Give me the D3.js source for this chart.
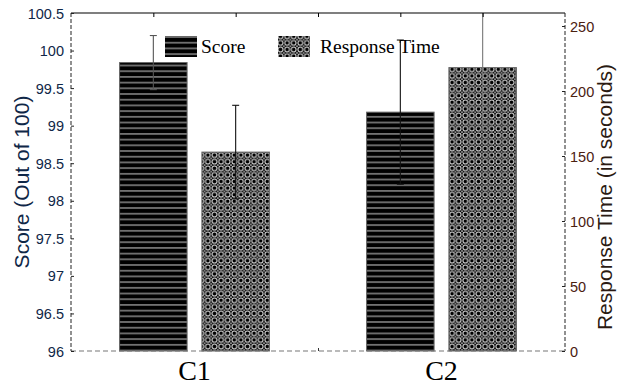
<!DOCTYPE html>
<html>
<head>
<meta charset="utf-8">
<script src="https://cdn.jsdelivr.net/npm/d3@7"></script>
<style>
  html, body { margin: 0; padding: 0; background: #fff; }
  svg { display: block; }
</style>
</head>
<body>
<svg id="chart" width="625" height="385"></svg>
<script>
// Groups and their positions on the shared x axis (slot 3 is the gap between groups)
const groups = ["C1", "C2"];
const scoreSlots = [1, 4];
const timeSlots = [2, 5];

// Score (out of 100): mean and error half-width
const scoreMean = [99.84, 99.18];
const scoreErr = [0.36, 0.96];

// Response time (seconds): mean and error half-width
const timeMean = [153, 218];
const timeErr = [36, 48];

// Axis ticks
const scoreTicks = [96, 96.5, 97, 97.5, 98, 98.5, 99, 99.5, 100, 100.5];
const timeTicks = [0, 50, 100, 150, 200, 250];
const slotTicks = [1, 2, 3, 4, 5];

const legendLabels = ["Score", "Response Time"];

const svg = d3.select("#chart");
const L = 71, R = 565, T = 13, B = 351;

const x = d3.scaleLinear().domain([0, 6]).range([L, R]);
const yScore = d3.scaleLinear().domain([96, 100.5]).range([B, T]);
const yTime = d3.scaleLinear().domain([0, 260]).range([B, T]);
const barW = x(0.82) - x(0);

// Fill patterns
const defs = svg.append("defs");
const hp = defs.append("pattern").attr("id", "hstripe")
  .attr("patternUnits", "userSpaceOnUse").attr("width", 8).attr("height", 5.7);
hp.append("rect").attr("width", 8).attr("height", 5.7).attr("fill", "#000");
hp.append("rect").attr("y", 2.4).attr("width", 8).attr("height", 0.85).attr("fill", "#f0f0f0");

const cp = defs.append("pattern").attr("id", "cross")
  .attr("patternUnits", "userSpaceOnUse").attr("width", 6.6).attr("height", 6.6);
cp.append("rect").attr("width", 6.6).attr("height", 6.6).attr("fill", "#000");
cp.append("circle").attr("cx", 3.3).attr("cy", 3.3).attr("r", 2.4)
  .attr("fill", "none").attr("stroke", "#e4e4e4").attr("stroke-width", 1.0);
[[0, 0], [6.6, 0], [0, 6.6], [6.6, 6.6]].forEach(([cx, cy]) =>
  cp.append("circle").attr("cx", cx).attr("cy", cy).attr("r", 0.8).attr("fill", "#fff"));

defs.append("clipPath").attr("id", "plotclip")
  .append("rect").attr("x", L).attr("y", T).attr("width", R - L).attr("height", B - T);

// Bars
const gBars = svg.append("g");
gBars.selectAll("rect.score").data(scoreMean).join("rect")
  .attr("class", "score")
  .attr("x", (d, i) => x(scoreSlots[i]) - barW / 2)
  .attr("y", d => yScore(d))
  .attr("width", barW)
  .attr("height", d => B - yScore(d))
  .attr("fill", "url(#hstripe)")
  .attr("stroke", "#666").attr("stroke-width", 1);

gBars.selectAll("rect.time").data(timeMean).join("rect")
  .attr("class", "time")
  .attr("x", (d, i) => x(timeSlots[i]) - barW / 2)
  .attr("y", d => yTime(d))
  .attr("width", barW)
  .attr("height", d => B - yTime(d))
  .attr("fill", "url(#cross)")
  .attr("stroke", "#666").attr("stroke-width", 1);

// Error bars
const gErr = svg.append("g").attr("clip-path", "url(#plotclip)")
  .attr("stroke-width", 1.1).attr("fill", "none");
function errorBars(means, errs, slots, y, color) {
  means.forEach((m, i) => {
    const cx = x(slots[i]);
    const hi = y(m + errs[i]), lo = y(m - errs[i]);
    gErr.append("line").attr("x1", cx).attr("x2", cx).attr("y1", hi).attr("y2", lo).attr("stroke", color[i]);
    gErr.append("line").attr("x1", cx - 3.5).attr("x2", cx + 3.5).attr("y1", hi).attr("y2", hi).attr("stroke", color[i]);
    gErr.append("line").attr("x1", cx - 3.5).attr("x2", cx + 3.5).attr("y1", lo).attr("y2", lo).attr("stroke", color[i]);
  });
}
errorBars(scoreMean, scoreErr, scoreSlots, yScore, ["#555", "#111"]);
errorBars(timeMean, timeErr, timeSlots, yTime, ["#111", "#777"]);

// Frame: solid top axis, dashed sides and bottom
svg.append("line").attr("x1", L).attr("x2", R).attr("y1", T).attr("y2", T)
  .attr("stroke", "#000").attr("stroke-width", 1.2);
svg.append("line").attr("x1", L).attr("x2", R).attr("y1", B).attr("y2", B)
  .attr("stroke", "#777").attr("stroke-width", 1.2).attr("stroke-dasharray", "5,3");
svg.append("line").attr("x1", L).attr("x2", L).attr("y1", T).attr("y2", B)
  .attr("stroke", "#222").attr("stroke-width", 1).attr("stroke-dasharray", "4,2");
svg.append("line").attr("x1", R).attr("x2", R).attr("y1", T).attr("y2", B)
  .attr("stroke", "#222").attr("stroke-width", 1).attr("stroke-dasharray", "4,2");

// Slot ticks on the top and bottom edges
const topAxis = svg.append("g").attr("transform", `translate(0,${T})`)
  .call(d3.axisBottom(x).tickValues(slotTicks).tickSize(4).tickFormat(""));
topAxis.select(".domain").remove();
topAxis.selectAll("line").attr("stroke", "#000");
const botAxis = svg.append("g").attr("transform", `translate(0,${B})`)
  .call(d3.axisTop(x).tickValues([3]).tickSize(3).tickFormat(""));
botAxis.select(".domain").remove();
botAxis.selectAll("line").attr("stroke", "#333");

// Left axis (score)
const leftAxis = svg.append("g").attr("transform", `translate(${L},0)`)
  .call(d3.axisRight(yScore).tickValues(scoreTicks).tickSize(3).tickFormat(d3.format("")));
leftAxis.select(".domain").remove();
leftAxis.selectAll("line").attr("stroke", "#222");
leftAxis.selectAll("text")
  .attr("x", -7).attr("text-anchor", "end").attr("dy", "0.35em")
  .attr("fill", "#0f2747")
  .style("font-family", "'Liberation Sans', Arial, sans-serif").style("font-size", "14.5px");

// Right axis (response time)
const rightAxis = svg.append("g").attr("transform", `translate(${R},0)`)
  .call(d3.axisLeft(yTime).tickValues(timeTicks).tickSize(3));
rightAxis.select(".domain").remove();
rightAxis.selectAll("line").attr("stroke", "#222");
rightAxis.selectAll("text")
  .attr("x", 5).attr("text-anchor", "start").attr("dy", "0.35em")
  .attr("fill", "#4a2010")
  .style("font-family", "'Liberation Sans', Arial, sans-serif").style("font-size", "14.5px");

// Axis titles
svg.append("text")
  .attr("transform", `translate(29,${(T + B) / 2}) rotate(-90)`)
  .attr("text-anchor", "middle")
  .attr("fill", "#0f2747")
  .style("font-family", "'Liberation Sans', Arial, sans-serif").style("font-size", "21px")
  .text("Score (Out of 100)");
svg.append("text")
  .attr("transform", `translate(612,${(T + B) / 2 + 15}) rotate(-90)`)
  .attr("text-anchor", "middle")
  .attr("fill", "#2a1a12")
  .style("font-family", "'Liberation Sans', Arial, sans-serif").style("font-size", "21px")
  .text("Response Time (in seconds)");

// Group labels
svg.selectAll("text.group").data(groups).join("text")
  .attr("class", "group")
  .attr("x", (d, i) => x((scoreSlots[i] + timeSlots[i]) / 2))
  .attr("y", 380)
  .attr("text-anchor", "middle")
  .attr("fill", "#000")
  .style("font-family", "'Liberation Serif', 'Times New Roman', serif").style("font-size", "28px")
  .text(d => d);

// Legend
const legend = svg.append("g");
const legendItems = [
  { label: legendLabels[0], fill: "url(#hstripe)", bx: 165, tx: 201 },
  { label: legendLabels[1], fill: "url(#cross)", bx: 278, tx: 320 }
];
legendItems.forEach(it => {
  legend.append("rect").attr("x", it.bx).attr("y", 36).attr("width", 32).attr("height", 21)
    .attr("fill", it.fill);
  legend.append("text").attr("x", it.tx).attr("y", 53)
    .attr("fill", "#000")
    .style("font-family", "'Liberation Serif', 'Times New Roman', serif").style("font-size", "19.5px")
    .text(it.label);
});
</script>
</body>
</html>
